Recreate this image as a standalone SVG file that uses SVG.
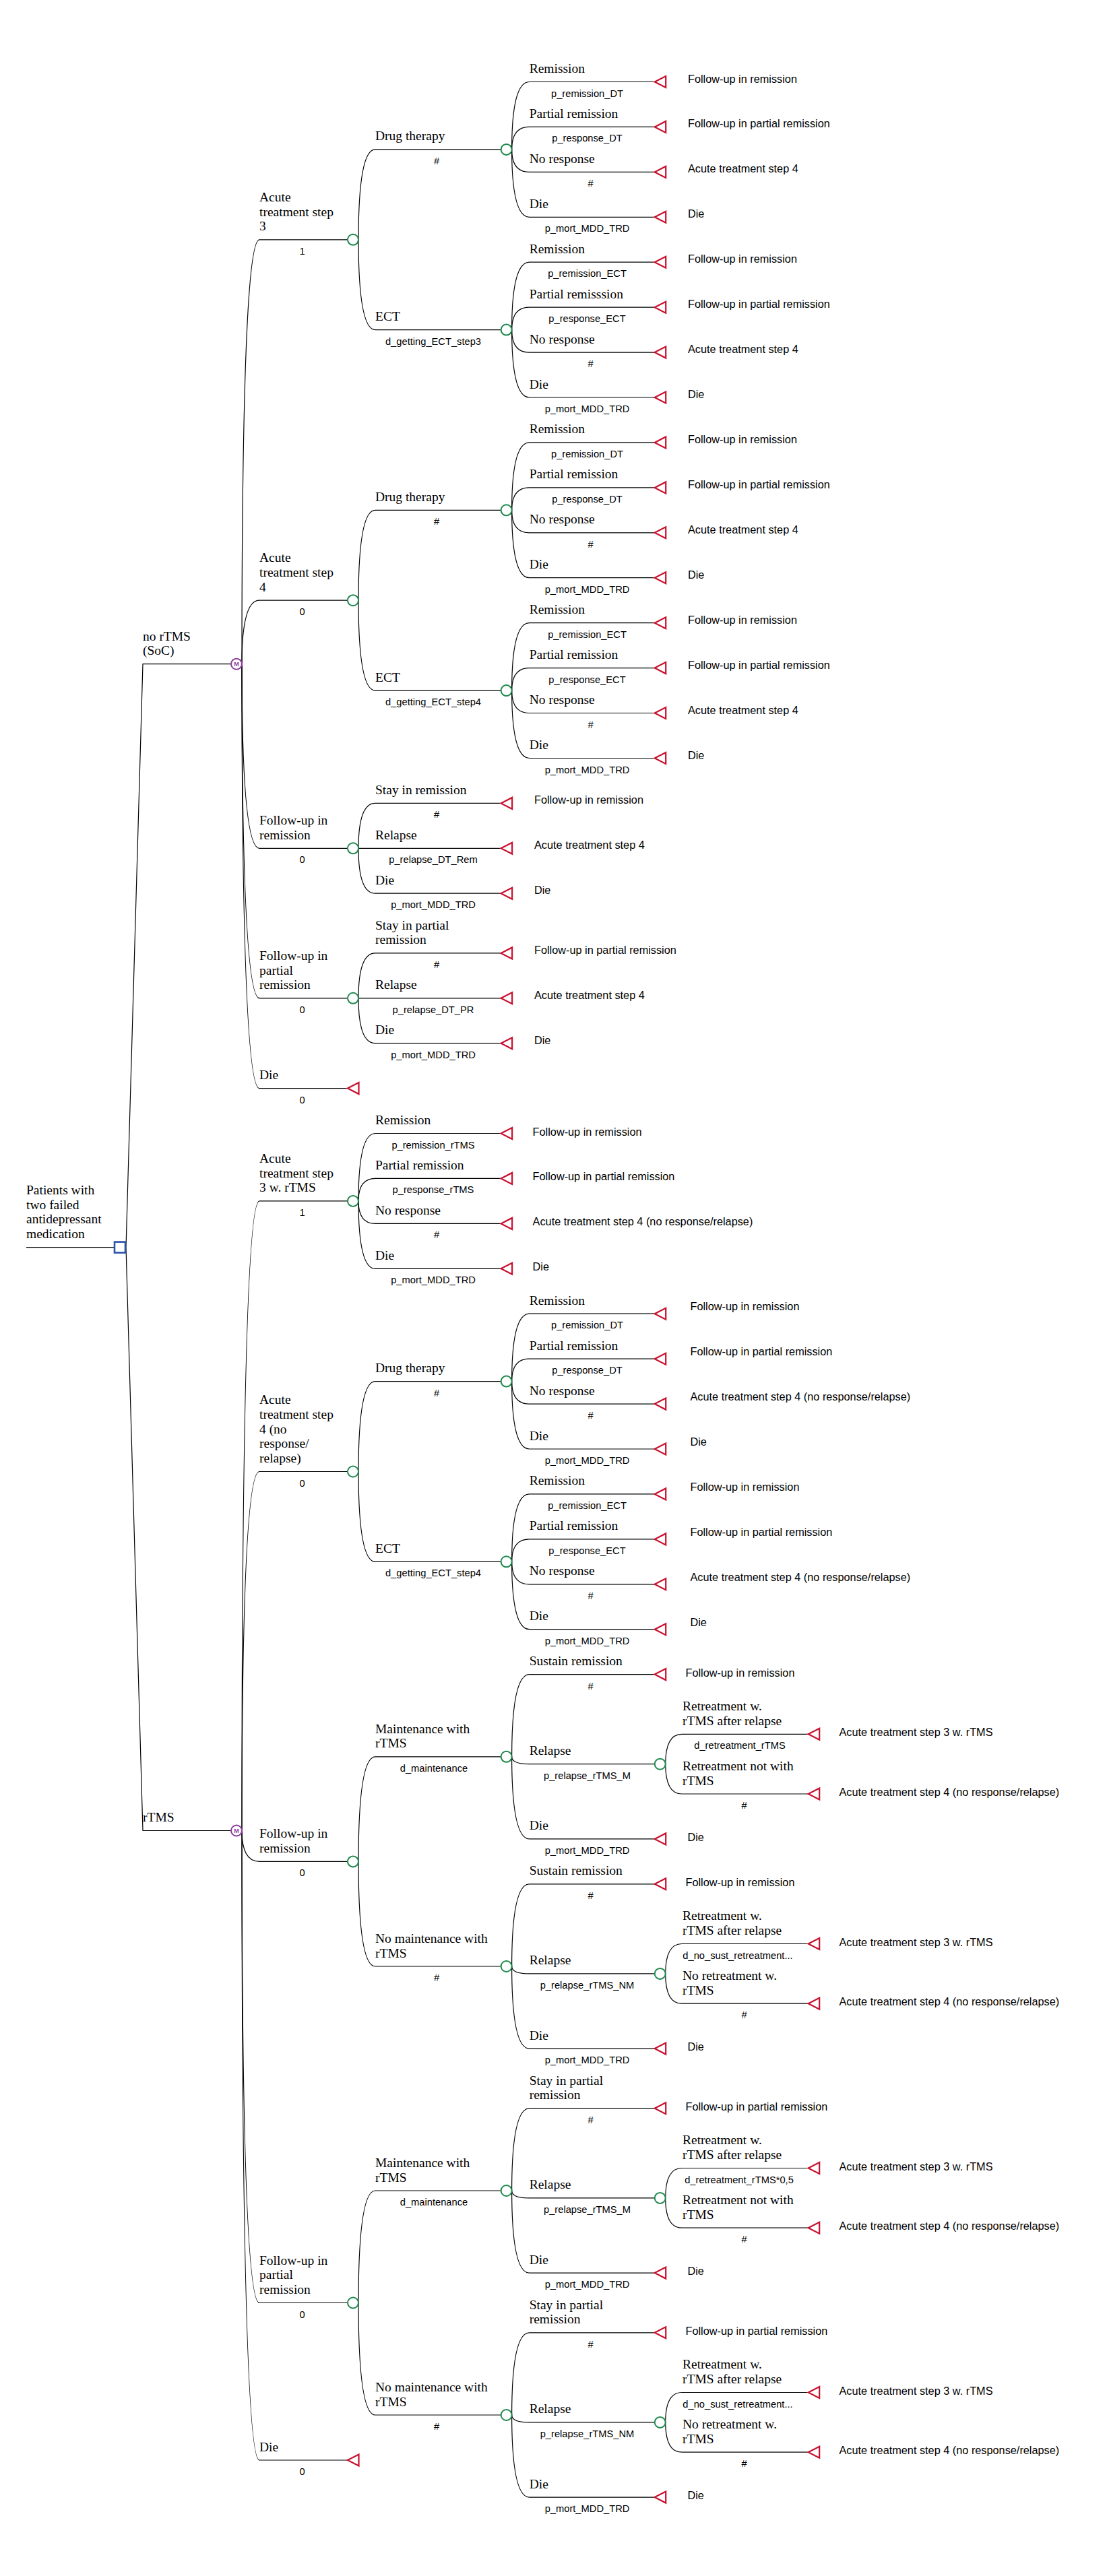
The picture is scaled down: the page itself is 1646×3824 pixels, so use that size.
<svg xmlns="http://www.w3.org/2000/svg" width="1646" height="3824" viewBox="0 0 1646 3824">
<style>
.c{fill:none;stroke:#000;stroke-width:1.2}
.bl{font-family:"Liberation Serif","Times New Roman",serif;font-size:19.5px;fill:#000}
.pl{font-family:"Liberation Sans",Arial,sans-serif;font-size:14.7px;fill:#000;text-anchor:middle}
.tl{font-family:"Liberation Sans",Arial,sans-serif;font-size:16.3px;fill:#000}
.ch{fill:#fff;stroke:#1e8a4c;stroke-width:2}
.tm{fill:none;stroke:#c8102e;stroke-width:2.2}
.dc{fill:#fff;stroke:#2a52a8;stroke-width:2.6}
.mk{fill:#fff;stroke:#8e3b9f;stroke-width:2}
.mt{font-family:"Liberation Sans",Arial,sans-serif;font-size:9px;font-weight:bold;fill:#8e3b9f;text-anchor:middle}
</style>
<defs>
<circle id="cc" r="8"/>
<path id="tri" d="M0,0 L16.5,-8.5 L16.5,8.5 Z"/>
</defs>
<rect width="1646" height="3824" fill="#fff"/>
<g id="connectors" class="c">
<path d="M39,1851.6 H170"/>
<path d="M187,1851.6 L212,985.7 H343"/>
<path d="M187,1851.6 L212,2717.5 H343"/>
<path d="M359,985.7 Q359,355.8 385,355.8 H516"/>
<path d="M359,985.7 Q359,891.2 385,891.2 H516"/>
<path d="M359,985.7 Q359,1259.3 385,1259.3 H516"/>
<path d="M359,985.7 Q359,1481.8 385,1481.8 H516"/>
<path d="M359,985.7 Q359,1615.6 385,1615.6 H516"/>
<path d="M532,355.8 Q532,221.9 557,221.9 H743.6"/>
<path d="M532,355.8 Q532,489.6 557,489.6 H743.6"/>
<path d="M759.6,221.9 Q759.6,121.5 785.7,121.5 H971.7"/>
<path d="M759.6,221.9 Q759.6,188.4 785.7,188.4 H971.7"/>
<path d="M759.6,221.9 Q759.6,255.4 785.7,255.4 H971.7"/>
<path d="M759.6,221.9 Q759.6,322.3 785.7,322.3 H971.7"/>
<path d="M759.6,489.6 Q759.6,389.2 785.7,389.2 H971.7"/>
<path d="M759.6,489.6 Q759.6,456.2 785.7,456.2 H971.7"/>
<path d="M759.6,489.6 Q759.6,523.1 785.7,523.1 H971.7"/>
<path d="M759.6,489.6 Q759.6,590 785.7,590 H971.7"/>
<path d="M532,891.2 Q532,757.3 557,757.3 H743.6"/>
<path d="M532,891.2 Q532,1025.1 557,1025.1 H743.6"/>
<path d="M759.6,757.3 Q759.6,656.9 785.7,656.9 H971.7"/>
<path d="M759.6,757.3 Q759.6,723.9 785.7,723.9 H971.7"/>
<path d="M759.6,757.3 Q759.6,790.8 785.7,790.8 H971.7"/>
<path d="M759.6,757.3 Q759.6,857.7 785.7,857.7 H971.7"/>
<path d="M759.6,1025.1 Q759.6,924.7 785.7,924.7 H971.7"/>
<path d="M759.6,1025.1 Q759.6,991.6 785.7,991.6 H971.7"/>
<path d="M759.6,1025.1 Q759.6,1058.5 785.7,1058.5 H971.7"/>
<path d="M759.6,1025.1 Q759.6,1125.5 785.7,1125.5 H971.7"/>
<path d="M532,1259.3 Q532,1192.4 557,1192.4 H743.6"/>
<path d="M532,1259.3 H743.6"/>
<path d="M532,1259.3 Q532,1326.2 557,1326.2 H743.6"/>
<path d="M532,1481.8 Q532,1414.9 557,1414.9 H743.6"/>
<path d="M532,1481.8 H743.6"/>
<path d="M532,1481.8 Q532,1548.7 557,1548.7 H743.6"/>
<path d="M359,2717.5 Q359,1782.9 385,1782.9 H516"/>
<path d="M359,2717.5 Q359,2184.5 385,2184.5 H516"/>
<path d="M359,2717.5 Q359,2763.4 385,2763.4 H516"/>
<path d="M359,2717.5 Q359,3418.5 385,3418.5 H516"/>
<path d="M359,2717.5 Q359,3652 385,3652 H516"/>
<path d="M532,1782.9 Q532,1682.5 557,1682.5 H743.6"/>
<path d="M532,1782.9 Q532,1749.4 557,1749.4 H743.6"/>
<path d="M532,1782.9 Q532,1816.4 557,1816.4 H743.6"/>
<path d="M532,1782.9 Q532,1883.3 557,1883.3 H743.6"/>
<path d="M532,2184.5 Q532,2050.6 557,2050.6 H743.6"/>
<path d="M532,2184.5 Q532,2318.3 557,2318.3 H743.6"/>
<path d="M759.6,2050.6 Q759.6,1950.2 785.7,1950.2 H971.7"/>
<path d="M759.6,2050.6 Q759.6,2017.2 785.7,2017.2 H971.7"/>
<path d="M759.6,2050.6 Q759.6,2084.1 785.7,2084.1 H971.7"/>
<path d="M759.6,2050.6 Q759.6,2151 785.7,2151 H971.7"/>
<path d="M759.6,2318.3 Q759.6,2217.9 785.7,2217.9 H971.7"/>
<path d="M759.6,2318.3 Q759.6,2284.9 785.7,2284.9 H971.7"/>
<path d="M759.6,2318.3 Q759.6,2351.8 785.7,2351.8 H971.7"/>
<path d="M759.6,2318.3 Q759.6,2418.7 785.7,2418.7 H971.7"/>
<path d="M532,2763.4 Q532,2607.8 557,2607.8 H743.6"/>
<path d="M532,2763.4 Q532,2919 557,2919 H743.6"/>
<path d="M759.6,2607.8 Q759.6,2485.6 785.7,2485.6 H971.7"/>
<path d="M759.6,2607.8 Q759.6,2618.7 785.7,2618.7 H971.7"/>
<path d="M759.6,2607.8 Q759.6,2729.9 785.7,2729.9 H971.7"/>
<path d="M987.7,2618.7 Q987.7,2574.3 1012,2574.3 H1199.7"/>
<path d="M987.7,2618.7 Q987.7,2663 1012,2663 H1199.7"/>
<path d="M759.6,2919 Q759.6,2796.8 785.7,2796.8 H971.7"/>
<path d="M759.6,2919 Q759.6,2929.9 785.7,2929.9 H971.7"/>
<path d="M759.6,2919 Q759.6,3041.1 785.7,3041.1 H971.7"/>
<path d="M987.7,2929.9 Q987.7,2885.5 1012,2885.5 H1199.7"/>
<path d="M987.7,2929.9 Q987.7,2974.2 1012,2974.2 H1199.7"/>
<path d="M532,3418.5 Q532,3252 557,3252 H743.6"/>
<path d="M532,3418.5 Q532,3585 557,3585 H743.6"/>
<path d="M759.6,3252 Q759.6,3129.8 785.7,3129.8 H971.7"/>
<path d="M759.6,3252 Q759.6,3262.9 785.7,3262.9 H971.7"/>
<path d="M759.6,3252 Q759.6,3374.1 785.7,3374.1 H971.7"/>
<path d="M987.7,3262.9 Q987.7,3218.5 1012,3218.5 H1199.7"/>
<path d="M987.7,3262.9 Q987.7,3307.2 1012,3307.2 H1199.7"/>
<path d="M759.6,3585 Q759.6,3462.8 785.7,3462.8 H971.7"/>
<path d="M759.6,3585 Q759.6,3595.9 785.7,3595.9 H971.7"/>
<path d="M759.6,3585 Q759.6,3707.1 785.7,3707.1 H971.7"/>
<path d="M987.7,3595.9 Q987.7,3551.5 1012,3551.5 H1199.7"/>
<path d="M987.7,3595.9 Q987.7,3640.2 1012,3640.2 H1199.7"/>
</g>

<g id="root">
<rect x="170" y="1843.6" width="16" height="16" class="dc"/>
<text class="bl" x="39" y="1773">Patients with</text>
<text class="bl" x="39" y="1794.7">two failed</text>
<text class="bl" x="39" y="1816.4">antidepressant</text>
<text class="bl" x="39" y="1838.1">medication</text>
</g>

<!-- ================= no rTMS ================= -->
<g id="m-nortms">
<circle cx="351" cy="985.7" r="8" class="mk"/><text class="mt" x="351" y="988.9">M</text>
<text class="bl" x="212" y="950.5">no rTMS</text>
<text class="bl" x="212" y="972.2">(SoC)</text>
</g>

<g id="c-step3">
<use href="#cc" x="524" y="355.8" class="ch"/>
<text class="bl" x="385" y="298.9">Acute</text>
<text class="bl" x="385" y="320.6">treatment step</text>
<text class="bl" x="385" y="342.3">3</text>
<text class="pl" x="448.5" y="377.8">1</text>
</g>
<g id="c-step3-dt">
<use href="#cc" x="751.6" y="221.9" class="ch"/>
<text class="bl" x="557" y="208.4">Drug therapy</text>
<text class="pl" x="648" y="243.9">#</text>
</g>
<g id="t-s3dt-rem"><use href="#tri" x="971.7" y="121.5" class="tm"/><text class="bl" x="785.7" y="108">Remission</text><text class="pl" x="871.5" y="143.5">p_remission_DT</text><text class="tl" x="1021" y="122.5">Follow-up in remission</text></g>
<g id="t-s3dt-par"><use href="#tri" x="971.7" y="188.4" class="tm"/><text class="bl" x="785.7" y="174.9">Partial remission</text><text class="pl" x="871.5" y="210.4">p_response_DT</text><text class="tl" x="1021" y="189.4">Follow-up in partial remission</text></g>
<g id="t-s3dt-nr"><use href="#tri" x="971.7" y="255.4" class="tm"/><text class="bl" x="785.7" y="241.9">No response</text><text class="pl" x="876.6" y="277.4">#</text><text class="tl" x="1021" y="256.4">Acute treatment step 4</text></g>
<g id="t-s3dt-die"><use href="#tri" x="971.7" y="322.3" class="tm"/><text class="bl" x="785.7" y="308.8">Die</text><text class="pl" x="871.5" y="344.3">p_mort_MDD_TRD</text><text class="tl" x="1021" y="323.3">Die</text></g>
<g id="c-step3-ect">
<use href="#cc" x="751.6" y="489.6" class="ch"/>
<text class="bl" x="557" y="476.1">ECT</text>
<text class="pl" x="643" y="511.6">d_getting_ECT_step3</text>
</g>
<g id="t-s3ect-rem"><use href="#tri" x="971.7" y="389.2" class="tm"/><text class="bl" x="785.7" y="375.7">Remission</text><text class="pl" x="871.5" y="411.2">p_remission_ECT</text><text class="tl" x="1021" y="390.2">Follow-up in remission</text></g>
<g id="t-s3ect-par"><use href="#tri" x="971.7" y="456.2" class="tm"/><text class="bl" x="785.7" y="442.7">Partial remisssion</text><text class="pl" x="871.5" y="478.2">p_response_ECT</text><text class="tl" x="1021" y="457.2">Follow-up in partial remission</text></g>
<g id="t-s3ect-nr"><use href="#tri" x="971.7" y="523.1" class="tm"/><text class="bl" x="785.7" y="509.6">No response</text><text class="pl" x="876.6" y="545.1">#</text><text class="tl" x="1021" y="524.1">Acute treatment step 4</text></g>
<g id="t-s3ect-die"><use href="#tri" x="971.7" y="590" class="tm"/><text class="bl" x="785.7" y="576.5">Die</text><text class="pl" x="871.5" y="612">p_mort_MDD_TRD</text><text class="tl" x="1021" y="591">Die</text></g>

<g id="c-step4">
<use href="#cc" x="524" y="891.2" class="ch"/>
<text class="bl" x="385" y="834.3">Acute</text>
<text class="bl" x="385" y="856">treatment step</text>
<text class="bl" x="385" y="877.7">4</text>
<text class="pl" x="448.5" y="913.2">0</text>
</g>
<g id="c-step4-dt">
<use href="#cc" x="751.6" y="757.3" class="ch"/>
<text class="bl" x="557" y="743.8">Drug therapy</text>
<text class="pl" x="648" y="779.3">#</text>
</g>
<g id="t-s4dt-rem"><use href="#tri" x="971.7" y="656.9" class="tm"/><text class="bl" x="785.7" y="643.4">Remission</text><text class="pl" x="871.5" y="678.9">p_remission_DT</text><text class="tl" x="1021" y="657.9">Follow-up in remission</text></g>
<g id="t-s4dt-par"><use href="#tri" x="971.7" y="723.9" class="tm"/><text class="bl" x="785.7" y="710.4">Partial remission</text><text class="pl" x="871.5" y="745.9">p_response_DT</text><text class="tl" x="1021" y="724.9">Follow-up in partial remission</text></g>
<g id="t-s4dt-nr"><use href="#tri" x="971.7" y="790.8" class="tm"/><text class="bl" x="785.7" y="777.3">No response</text><text class="pl" x="876.6" y="812.8">#</text><text class="tl" x="1021" y="791.8">Acute treatment step 4</text></g>
<g id="t-s4dt-die"><use href="#tri" x="971.7" y="857.7" class="tm"/><text class="bl" x="785.7" y="844.2">Die</text><text class="pl" x="871.5" y="879.7">p_mort_MDD_TRD</text><text class="tl" x="1021" y="858.7">Die</text></g>
<g id="c-step4-ect">
<use href="#cc" x="751.6" y="1025.1" class="ch"/>
<text class="bl" x="557" y="1011.6">ECT</text>
<text class="pl" x="643" y="1047.1">d_getting_ECT_step4</text>
</g>
<g id="t-s4ect-rem"><use href="#tri" x="971.7" y="924.7" class="tm"/><text class="bl" x="785.7" y="911.2">Remission</text><text class="pl" x="871.5" y="946.7">p_remission_ECT</text><text class="tl" x="1021" y="925.7">Follow-up in remission</text></g>
<g id="t-s4ect-par"><use href="#tri" x="971.7" y="991.6" class="tm"/><text class="bl" x="785.7" y="978.1">Partial remission</text><text class="pl" x="871.5" y="1013.6">p_response_ECT</text><text class="tl" x="1021" y="992.6">Follow-up in partial remission</text></g>
<g id="t-s4ect-nr"><use href="#tri" x="971.7" y="1058.5" class="tm"/><text class="bl" x="785.7" y="1045">No response</text><text class="pl" x="876.6" y="1080.5">#</text><text class="tl" x="1021" y="1059.5">Acute treatment step 4</text></g>
<g id="t-s4ect-die"><use href="#tri" x="971.7" y="1125.5" class="tm"/><text class="bl" x="785.7" y="1112">Die</text><text class="pl" x="871.5" y="1147.5">p_mort_MDD_TRD</text><text class="tl" x="1021" y="1126.5">Die</text></g>

<g id="c-furem">
<use href="#cc" x="524" y="1259.3" class="ch"/>
<text class="bl" x="385" y="1224.1">Follow-up in</text>
<text class="bl" x="385" y="1245.8">remission</text>
<text class="pl" x="448.5" y="1281.3">0</text>
</g>
<g id="t-furem-stay"><use href="#tri" x="743.6" y="1192.4" class="tm"/><text class="bl" x="557" y="1178.9">Stay in remission</text><text class="pl" x="648" y="1214.4">#</text><text class="tl" x="793" y="1193.4">Follow-up in remission</text></g>
<g id="t-furem-rel"><use href="#tri" x="743.6" y="1259.3" class="tm"/><text class="bl" x="557" y="1245.8">Relapse</text><text class="pl" x="643" y="1281.3">p_relapse_DT_Rem</text><text class="tl" x="793" y="1260.3">Acute treatment step 4</text></g>
<g id="t-furem-die"><use href="#tri" x="743.6" y="1326.2" class="tm"/><text class="bl" x="557" y="1312.7">Die</text><text class="pl" x="643" y="1348.2">p_mort_MDD_TRD</text><text class="tl" x="793" y="1327.2">Die</text></g>

<g id="c-fupar">
<use href="#cc" x="524" y="1481.8" class="ch"/>
<text class="bl" x="385" y="1424.9">Follow-up in</text>
<text class="bl" x="385" y="1446.6">partial</text>
<text class="bl" x="385" y="1468.3">remission</text>
<text class="pl" x="448.5" y="1503.8">0</text>
</g>
<g id="t-fupar-stay"><use href="#tri" x="743.6" y="1414.9" class="tm"/><text class="bl" x="557" y="1379.7">Stay in partial</text><text class="bl" x="557" y="1401.4">remission</text><text class="pl" x="648" y="1436.9">#</text><text class="tl" x="793" y="1415.9">Follow-up in partial remission</text></g>
<g id="t-fupar-rel"><use href="#tri" x="743.6" y="1481.8" class="tm"/><text class="bl" x="557" y="1468.3">Relapse</text><text class="pl" x="643" y="1503.8">p_relapse_DT_PR</text><text class="tl" x="793" y="1482.8">Acute treatment step 4</text></g>
<g id="t-fupar-die"><use href="#tri" x="743.6" y="1548.7" class="tm"/><text class="bl" x="557" y="1535.2">Die</text><text class="pl" x="643" y="1570.7">p_mort_MDD_TRD</text><text class="tl" x="793" y="1549.7">Die</text></g>

<g id="t-nortms-die"><use href="#tri" x="516" y="1615.6" class="tm"/><text class="bl" x="385" y="1602.1">Die</text><text class="pl" x="448.5" y="1637.6">0</text></g>

<!-- ================= rTMS ================= -->
<g id="m-rtms">
<circle cx="351" cy="2717.5" r="8" class="mk"/><text class="mt" x="351" y="2720.7">M</text>
<text class="bl" x="212" y="2704">rTMS</text>
</g>

<g id="c-r-step3">
<use href="#cc" x="524" y="1782.9" class="ch"/>
<text class="bl" x="385" y="1726">Acute</text>
<text class="bl" x="385" y="1747.7">treatment step</text>
<text class="bl" x="385" y="1769.4">3 w. rTMS</text>
<text class="pl" x="448.5" y="1804.9">1</text>
</g>
<g id="t-rs3-rem"><use href="#tri" x="743.6" y="1682.5" class="tm"/><text class="bl" x="557" y="1669">Remission</text><text class="pl" x="643" y="1704.5">p_remission_rTMS</text><text class="tl" x="790.6" y="1685.5">Follow-up in remission</text></g>
<g id="t-rs3-par"><use href="#tri" x="743.6" y="1749.4" class="tm"/><text class="bl" x="557" y="1735.9">Partial remission</text><text class="pl" x="643" y="1771.4">p_response_rTMS</text><text class="tl" x="790.6" y="1752.4">Follow-up in partial remission</text></g>
<g id="t-rs3-nr"><use href="#tri" x="743.6" y="1816.4" class="tm"/><text class="bl" x="557" y="1802.9">No response</text><text class="pl" x="648" y="1838.4">#</text><text class="tl" x="790.6" y="1819.4">Acute treatment step 4 (no response/relapse)</text></g>
<g id="t-rs3-die"><use href="#tri" x="743.6" y="1883.3" class="tm"/><text class="bl" x="557" y="1869.8">Die</text><text class="pl" x="643" y="1905.3">p_mort_MDD_TRD</text><text class="tl" x="790.6" y="1886.3">Die</text></g>

<g id="c-r-step4">
<use href="#cc" x="524" y="2184.5" class="ch"/>
<text class="bl" x="385" y="2084.2">Acute</text>
<text class="bl" x="385" y="2105.9">treatment step</text>
<text class="bl" x="385" y="2127.6">4 (no</text>
<text class="bl" x="385" y="2149.3">response/</text>
<text class="bl" x="385" y="2171">relapse)</text>
<text class="pl" x="448.5" y="2206.5">0</text>
</g>
<g id="c-r-step4-dt">
<use href="#cc" x="751.6" y="2050.6" class="ch"/>
<text class="bl" x="557" y="2037.1">Drug therapy</text>
<text class="pl" x="648" y="2072.6">#</text>
</g>
<g id="t-rs4dt-rem"><use href="#tri" x="971.7" y="1950.2" class="tm"/><text class="bl" x="785.7" y="1936.7">Remission</text><text class="pl" x="871.5" y="1972.2">p_remission_DT</text><text class="tl" x="1024.5" y="1945.2">Follow-up in remission</text></g>
<g id="t-rs4dt-par"><use href="#tri" x="971.7" y="2017.2" class="tm"/><text class="bl" x="785.7" y="2003.7">Partial remission</text><text class="pl" x="871.5" y="2039.2">p_response_DT</text><text class="tl" x="1024.5" y="2012.2">Follow-up in partial remission</text></g>
<g id="t-rs4dt-nr"><use href="#tri" x="971.7" y="2084.1" class="tm"/><text class="bl" x="785.7" y="2070.6">No response</text><text class="pl" x="876.6" y="2106.1">#</text><text class="tl" x="1024.5" y="2079.1">Acute treatment step 4 (no response/relapse)</text></g>
<g id="t-rs4dt-die"><use href="#tri" x="971.7" y="2151" class="tm"/><text class="bl" x="785.7" y="2137.5">Die</text><text class="pl" x="871.5" y="2173">p_mort_MDD_TRD</text><text class="tl" x="1024.5" y="2146">Die</text></g>
<g id="c-r-step4-ect">
<use href="#cc" x="751.6" y="2318.3" class="ch"/>
<text class="bl" x="557" y="2304.8">ECT</text>
<text class="pl" x="643" y="2340.3">d_getting_ECT_step4</text>
</g>
<g id="t-rs4ect-rem"><use href="#tri" x="971.7" y="2217.9" class="tm"/><text class="bl" x="785.7" y="2204.4">Remission</text><text class="pl" x="871.5" y="2239.9">p_remission_ECT</text><text class="tl" x="1024.5" y="2212.9">Follow-up in remission</text></g>
<g id="t-rs4ect-par"><use href="#tri" x="971.7" y="2284.9" class="tm"/><text class="bl" x="785.7" y="2271.4">Partial remission</text><text class="pl" x="871.5" y="2306.9">p_response_ECT</text><text class="tl" x="1024.5" y="2279.9">Follow-up in partial remission</text></g>
<g id="t-rs4ect-nr"><use href="#tri" x="971.7" y="2351.8" class="tm"/><text class="bl" x="785.7" y="2338.3">No response</text><text class="pl" x="876.6" y="2373.8">#</text><text class="tl" x="1024.5" y="2346.8">Acute treatment step 4 (no response/relapse)</text></g>
<g id="t-rs4ect-die"><use href="#tri" x="971.7" y="2418.7" class="tm"/><text class="bl" x="785.7" y="2405.2">Die</text><text class="pl" x="871.5" y="2440.7">p_mort_MDD_TRD</text><text class="tl" x="1024.5" y="2413.7">Die</text></g>

<g id="c-r-furem">
<use href="#cc" x="524" y="2763.4" class="ch"/>
<text class="bl" x="385" y="2728.2">Follow-up in</text>
<text class="bl" x="385" y="2749.9">remission</text>
<text class="pl" x="448.5" y="2785.4">0</text>
</g>
<g id="c-r-furem-m">
<use href="#cc" x="751.6" y="2607.8" class="ch"/>
<text class="bl" x="557" y="2572.6">Maintenance with</text>
<text class="bl" x="557" y="2594.3">rTMS</text>
<text class="pl" x="644" y="2629.8">d_maintenance</text>
</g>
<g id="t-rfm-sus"><use href="#tri" x="971.7" y="2485.6" class="tm"/><text class="bl" x="785.7" y="2472.1">Sustain remission</text><text class="pl" x="876.6" y="2507.6">#</text><text class="tl" x="1017.5" y="2488.6">Follow-up in remission</text></g>
<g id="c-rfm-rel">
<use href="#cc" x="979.7" y="2618.7" class="ch"/>
<text class="bl" x="785.7" y="2605.2">Relapse</text>
<text class="pl" x="871.5" y="2640.7">p_relapse_rTMS_M</text>
</g>
<g id="t-rfm-rw"><use href="#tri" x="1199.7" y="2574.3" class="tm"/><text class="bl" x="1013" y="2539.1">Retreatment w.</text><text class="bl" x="1013" y="2560.8">rTMS after relapse</text><text class="pl" x="1098" y="2596.3">d_retreatment_rTMS</text><text class="tl" x="1245.5" y="2577.3">Acute treatment step 3 w. rTMS</text></g>
<g id="t-rfm-rn"><use href="#tri" x="1199.7" y="2663" class="tm"/><text class="bl" x="1013" y="2627.8">Retreatment not with</text><text class="bl" x="1013" y="2649.5">rTMS</text><text class="pl" x="1104.7" y="2685">#</text><text class="tl" x="1245.5" y="2666">Acute treatment step 4 (no response/relapse)</text></g>
<g id="t-rfm-die"><use href="#tri" x="971.7" y="2729.9" class="tm"/><text class="bl" x="785.7" y="2716.4">Die</text><text class="pl" x="871.5" y="2751.9">p_mort_MDD_TRD</text><text class="tl" x="1020.5" y="2732.9">Die</text></g>

<g id="c-r-furem-nm">
<use href="#cc" x="751.6" y="2919" class="ch"/>
<text class="bl" x="557" y="2883.8">No maintenance with</text>
<text class="bl" x="557" y="2905.5">rTMS</text>
<text class="pl" x="648" y="2941">#</text>
</g>
<g id="t-rfn-sus"><use href="#tri" x="971.7" y="2796.8" class="tm"/><text class="bl" x="785.7" y="2783.3">Sustain remission</text><text class="pl" x="876.6" y="2818.8">#</text><text class="tl" x="1017.5" y="2799.8">Follow-up in remission</text></g>
<g id="c-rfn-rel">
<use href="#cc" x="979.7" y="2929.9" class="ch"/>
<text class="bl" x="785.7" y="2916.4">Relapse</text>
<text class="pl" x="871.5" y="2951.9">p_relapse_rTMS_NM</text>
</g>
<g id="t-rfn-rw"><use href="#tri" x="1199.7" y="2885.5" class="tm"/><text class="bl" x="1013" y="2850.3">Retreatment w.</text><text class="bl" x="1013" y="2872">rTMS after relapse</text><text class="pl" x="1095" y="2907.5">d_no_sust_retreatment...</text><text class="tl" x="1245.5" y="2888.5">Acute treatment step 3 w. rTMS</text></g>
<g id="t-rfn-rn"><use href="#tri" x="1199.7" y="2974.2" class="tm"/><text class="bl" x="1013" y="2939">No retreatment w.</text><text class="bl" x="1013" y="2960.7">rTMS</text><text class="pl" x="1104.7" y="2996.2">#</text><text class="tl" x="1245.5" y="2977.2">Acute treatment step 4 (no response/relapse)</text></g>
<g id="t-rfn-die"><use href="#tri" x="971.7" y="3041.1" class="tm"/><text class="bl" x="785.7" y="3027.6">Die</text><text class="pl" x="871.5" y="3063.1">p_mort_MDD_TRD</text><text class="tl" x="1020.5" y="3044.1">Die</text></g>

<g id="c-r-fupar">
<use href="#cc" x="524" y="3418.5" class="ch"/>
<text class="bl" x="385" y="3361.6">Follow-up in</text>
<text class="bl" x="385" y="3383.3">partial</text>
<text class="bl" x="385" y="3405">remission</text>
<text class="pl" x="448.5" y="3440.5">0</text>
</g>
<g id="c-r-fupar-m">
<use href="#cc" x="751.6" y="3252" class="ch"/>
<text class="bl" x="557" y="3216.8">Maintenance with</text>
<text class="bl" x="557" y="3238.5">rTMS</text>
<text class="pl" x="644" y="3274">d_maintenance</text>
</g>
<g id="t-rpm-stay"><use href="#tri" x="971.7" y="3129.8" class="tm"/><text class="bl" x="785.7" y="3094.6">Stay in partial</text><text class="bl" x="785.7" y="3116.3">remission</text><text class="pl" x="876.6" y="3151.8">#</text><text class="tl" x="1017.5" y="3132.8">Follow-up in partial remission</text></g>
<g id="c-rpm-rel">
<use href="#cc" x="979.7" y="3262.9" class="ch"/>
<text class="bl" x="785.7" y="3249.4">Relapse</text>
<text class="pl" x="871.5" y="3284.9">p_relapse_rTMS_M</text>
</g>
<g id="t-rpm-rw"><use href="#tri" x="1199.7" y="3218.5" class="tm"/><text class="bl" x="1013" y="3183.3">Retreatment w.</text><text class="bl" x="1013" y="3205">rTMS after relapse</text><text class="pl" x="1097" y="3240.5">d_retreatment_rTMS*0,5</text><text class="tl" x="1245.5" y="3221.5">Acute treatment step 3 w. rTMS</text></g>
<g id="t-rpm-rn"><use href="#tri" x="1199.7" y="3307.2" class="tm"/><text class="bl" x="1013" y="3272">Retreatment not with</text><text class="bl" x="1013" y="3293.7">rTMS</text><text class="pl" x="1104.7" y="3329.2">#</text><text class="tl" x="1245.5" y="3310.2">Acute treatment step 4 (no response/relapse)</text></g>
<g id="t-rpm-die"><use href="#tri" x="971.7" y="3374.1" class="tm"/><text class="bl" x="785.7" y="3360.6">Die</text><text class="pl" x="871.5" y="3396.1">p_mort_MDD_TRD</text><text class="tl" x="1020.5" y="3377.1">Die</text></g>

<g id="c-r-fupar-nm">
<use href="#cc" x="751.6" y="3585" class="ch"/>
<text class="bl" x="557" y="3549.8">No maintenance with</text>
<text class="bl" x="557" y="3571.5">rTMS</text>
<text class="pl" x="648" y="3607">#</text>
</g>
<g id="t-rpn-stay"><use href="#tri" x="971.7" y="3462.8" class="tm"/><text class="bl" x="785.7" y="3427.6">Stay in partial</text><text class="bl" x="785.7" y="3449.3">remission</text><text class="pl" x="876.6" y="3484.8">#</text><text class="tl" x="1017.5" y="3465.8">Follow-up in partial remission</text></g>
<g id="c-rpn-rel">
<use href="#cc" x="979.7" y="3595.9" class="ch"/>
<text class="bl" x="785.7" y="3582.4">Relapse</text>
<text class="pl" x="871.5" y="3617.9">p_relapse_rTMS_NM</text>
</g>
<g id="t-rpn-rw"><use href="#tri" x="1199.7" y="3551.5" class="tm"/><text class="bl" x="1013" y="3516.3">Retreatment w.</text><text class="bl" x="1013" y="3538">rTMS after relapse</text><text class="pl" x="1095" y="3573.5">d_no_sust_retreatment...</text><text class="tl" x="1245.5" y="3554.5">Acute treatment step 3 w. rTMS</text></g>
<g id="t-rpn-rn"><use href="#tri" x="1199.7" y="3640.2" class="tm"/><text class="bl" x="1013" y="3605">No retreatment w.</text><text class="bl" x="1013" y="3626.7">rTMS</text><text class="pl" x="1104.7" y="3662.2">#</text><text class="tl" x="1245.5" y="3643.2">Acute treatment step 4 (no response/relapse)</text></g>
<g id="t-rpn-die"><use href="#tri" x="971.7" y="3707.1" class="tm"/><text class="bl" x="785.7" y="3693.6">Die</text><text class="pl" x="871.5" y="3729.1">p_mort_MDD_TRD</text><text class="tl" x="1020.5" y="3710.1">Die</text></g>

<g id="t-rtms-die"><use href="#tri" x="516" y="3652" class="tm"/><text class="bl" x="385" y="3638.5">Die</text><text class="pl" x="448.5" y="3674">0</text></g>
</svg>
